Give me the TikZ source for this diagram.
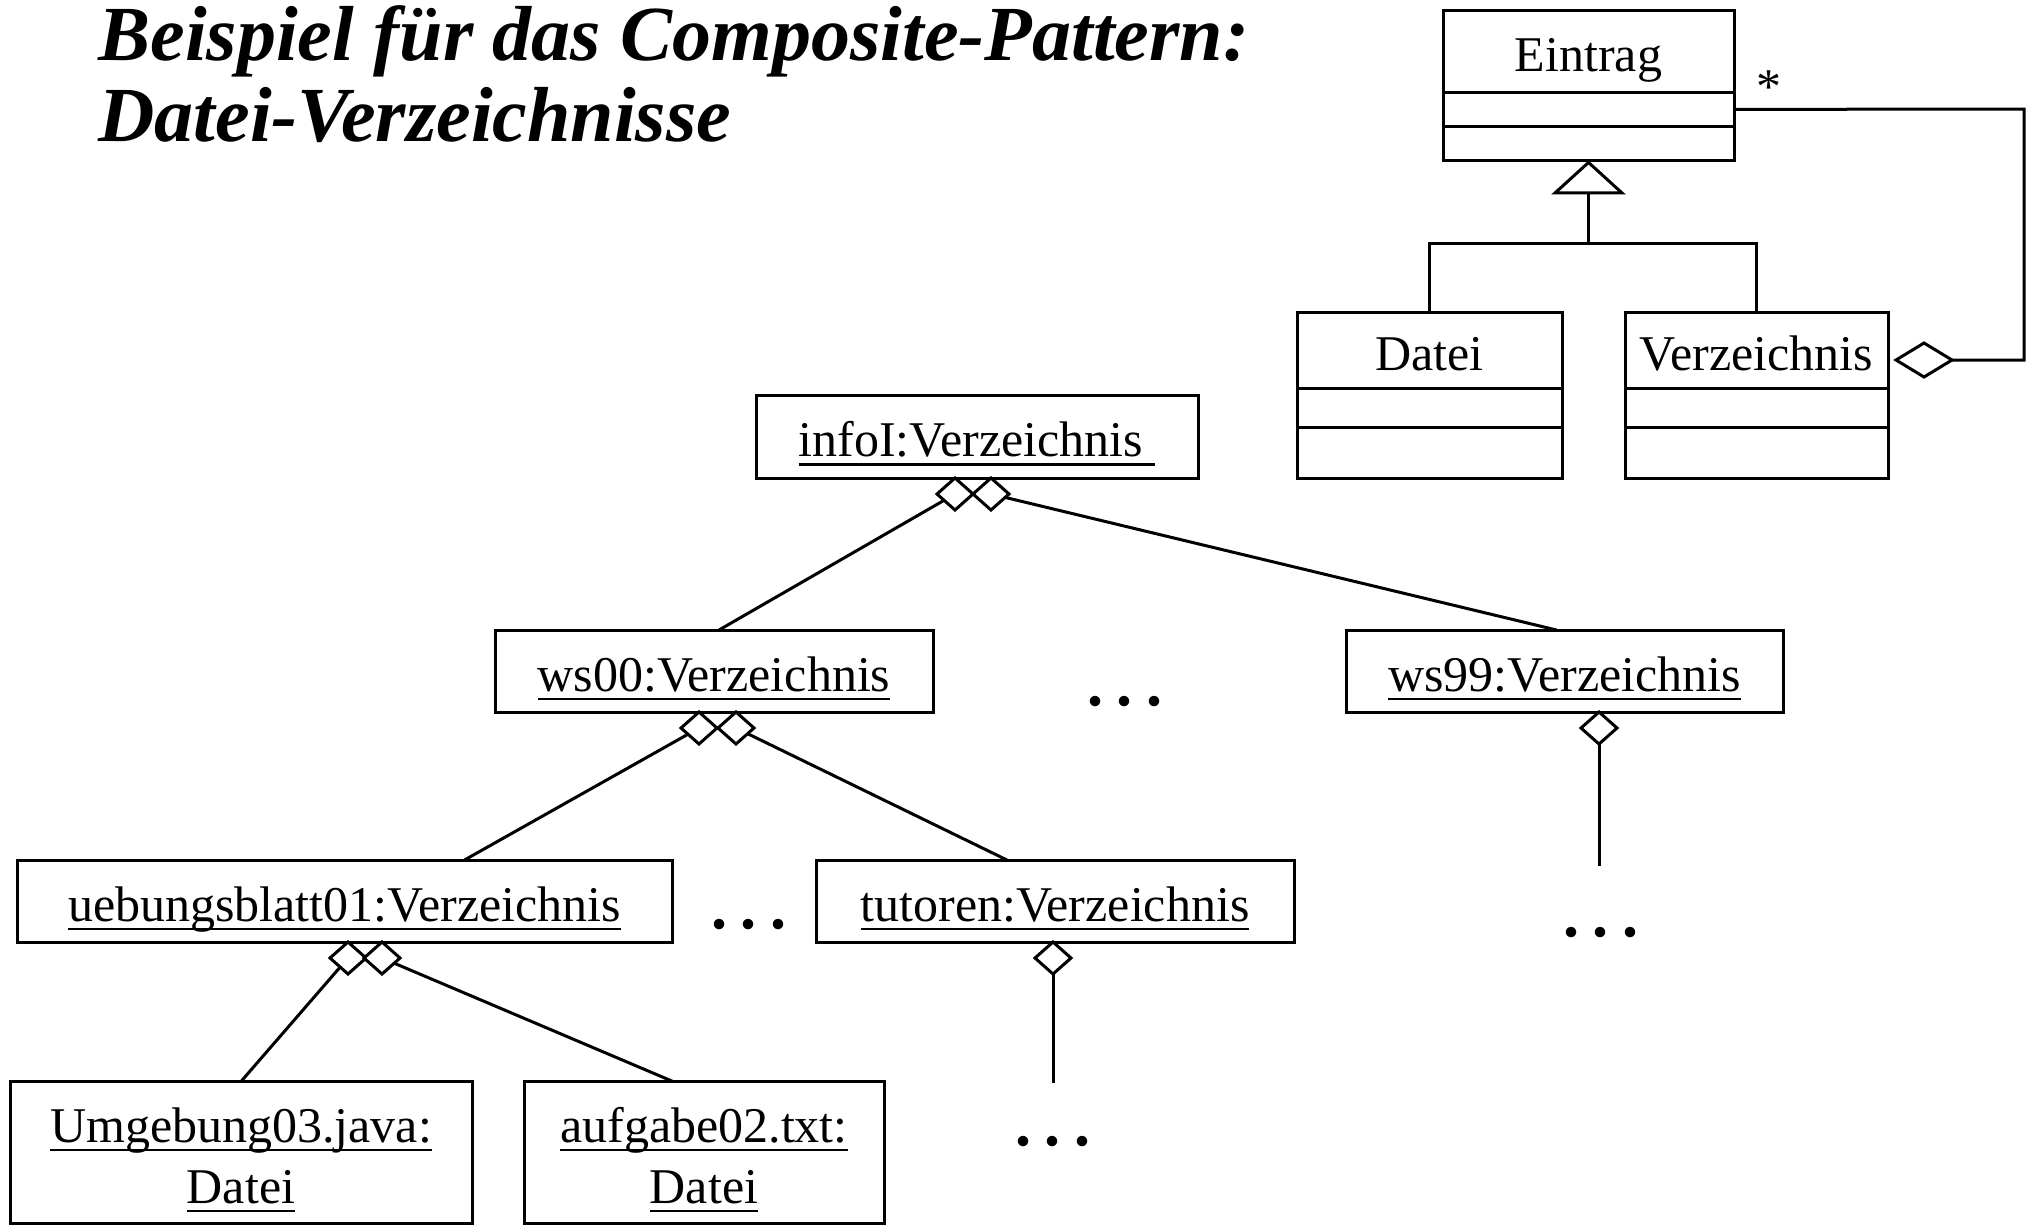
\documentclass[tikz,border=0pt]{standalone}
\usepackage{fontspec}
\setmainfont{Liberation Serif}
\usetikzlibrary{shapes.geometric,arrows.meta,calc}
% underlined text with a rule at a fixed depth
\newcommand\uln[1]{\leavevmode\setbox0=\hbox{#1}\rlap{\rule[-4.5pt]{\wd0}{1.2pt}}\box0}
% three evenly spaced full stops
\newcommand\threedots{\makebox[0pt]{.}\hspace{15pt}\makebox[0pt]{.}\hspace{15pt}\makebox[0pt]{.}}

\begin{document}
\begin{tikzpicture}[x=0.5pt,y=-0.5pt,line width=1.5pt,
  txt/.style={font=\fontsize{25pt}{30pt}\selectfont},
  obj/.style={draw,line width=1.5pt,inner sep=0pt,outer sep=0pt,txt,
              text height=25pt,text depth=5pt},
  namepart/.style={draw,line width=1.5pt,inner sep=0pt,outer sep=0pt,txt,
              text height=25pt,text depth=5pt,anchor=north},
  part/.style={draw,line width=1.5pt,inner sep=0pt,outer sep=0pt,anchor=north},
  agg/.style={draw,shape=diamond,line width=1.5pt,inner sep=0pt,outer sep=0pt,
              minimum width=18pt,minimum height=16pt,fill=white},
  dots/.style={font=\fontsize{44pt}{44pt}\selectfont,inner sep=0pt,anchor=base},
  linelabel/.style={txt,inner sep=0pt,anchor=base}]

\useasboundingbox (0,0) rectangle (2038,1227);

% heading
\node[anchor=base west,inner sep=0pt,font=\fontsize{39pt}{40pt}\selectfont\bfseries\itshape]
  (title1) at (97,60) {Beispiel für das Composite-Pattern:};
\node[anchor=base west,inner sep=0pt,font=\fontsize{39pt}{40pt}\selectfont\bfseries\itshape]
  (title2) at (97,141) {Datei-Verzeichnisse};

% class diagram
\node[namepart,minimum width=145.5pt,minimum height=41pt] (eintrag) at (1588.5,10.4) {Eintrag};
\node[part,minimum width=145.5pt,minimum height=17pt] (eintrag-attr) at (eintrag.south) {};
\node[part,minimum width=145.5pt,minimum height=17pt] (eintrag-op) at (eintrag-attr.south) {};

\node[namepart,minimum width=132.5pt,minimum height=38.3pt] (datei) at (1429.5,312) {Datei};
\node[part,minimum width=132.5pt,minimum height=19.5pt] (datei-attr) at (datei.south) {};
\node[part,minimum width=132.5pt,minimum height=25.2pt] (datei-op) at (datei-attr.south) {};

\node[namepart,minimum width=131.5pt,minimum height=38.3pt] (verz) at (1756.5,312) {Verzeichnis};
\node[part,minimum width=131.5pt,minimum height=19.5pt] (verz-attr) at (verz.south) {};
\node[part,minimum width=131.5pt,minimum height=25.2pt] (verz-op) at (verz-attr.south) {};

\coordinate (genjoin) at (1588.5,243);
\draw[-{Triangle[open,length=17pt,width=37pt]}] (genjoin) -- (eintrag-op.south);
\draw (datei.north) |- (genjoin) -| (verz.north);

\node[agg,minimum width=28pt,minimum height=17pt] (vagg) at (1924,360) {};
\coordinate (aggturn) at (2024,109);
\draw (vagg.east) -| (aggturn) -- (eintrag-attr.east);
\node[txt,inner sep=0pt,anchor=base] (mult) at (1769,103) {*};

% object diagram
\node[obj,minimum width=221pt,minimum height=41.5pt] (info) at (977,436.5) {\uln{infoI:Verzeichnis }};
\node[obj,minimum width=219pt,minimum height=41pt] (ws00) at (714,671) {\uln{ws00:Verzeichnis}};
\node[obj,minimum width=218.5pt,minimum height=41pt] (ws99) at (1564.5,671) {\uln{ws99:Verzeichnis}};
\node[obj,minimum width=327.5pt,minimum height=41pt] (ub) at (344.5,901) {\uln{uebungsblatt01:Verzeichnis}};
\node[obj,minimum width=239pt,minimum height=41pt] (tut) at (1055,901) {\uln{tutoren:Verzeichnis}};
\node[draw,line width=1.5pt,inner sep=0pt,outer sep=0pt,minimum width=231pt,minimum height=71pt] (umg) at (241,1152.5) {};
\node[draw,line width=1.5pt,inner sep=0pt,outer sep=0pt,minimum width=180pt,minimum height=71pt] (auf) at (704,1152.5) {};
\node[linelabel] (umg-l1) at (241,1142) {\uln{Umgebung03.java:}};
\node[linelabel] (umg-l2) at (241,1203) {\uln{Datei}};
\node[linelabel] (auf-l1) at (704,1142) {\uln{aufgabe02.txt:}};
\node[linelabel] (auf-l2) at (704,1203) {\uln{Datei}};

% aggregation diamonds
\node[agg] (da1) at (955,494) {};
\node[agg] (da2) at (991,494) {};
\node[agg] (db1) at (699,728) {};
\node[agg] (db2) at (736,728) {};
\node[agg] (dc1) at (348,958) {};
\node[agg] (dc2) at (382,958) {};
\node[agg] (dd) at (1599,728) {};
\node[agg] (de) at (1053,958) {};

\draw (da1) -- ($(ws00.north)+(5,0)$);
\draw (da2) -- ($(ws99.north)+(-8,0)$);
\draw (db1) -- ($(ub.north)+(120,0)$);
\draw (db2) -- ($(tut.north)+(-48,0)$);
\draw (dc1) -- (umg.north);
\draw (dc2) -- ($(auf.north)+(-31,0)$);
\coordinate (ws99end) at (1599,866);
\draw (dd) -- (ws99end);
\coordinate (tutend) at (1053,1083);
\draw (de) -- (tutend);

% ellipses
\node[dots] (dots1) at (1125,705) {\threedots};
\node[dots] (dots2) at (749,928) {\threedots};
\node[dots] (dots3) at (1601,936) {\threedots};
\node[dots] (dots4) at (1053,1145) {\threedots};

\end{tikzpicture}
\end{document}
